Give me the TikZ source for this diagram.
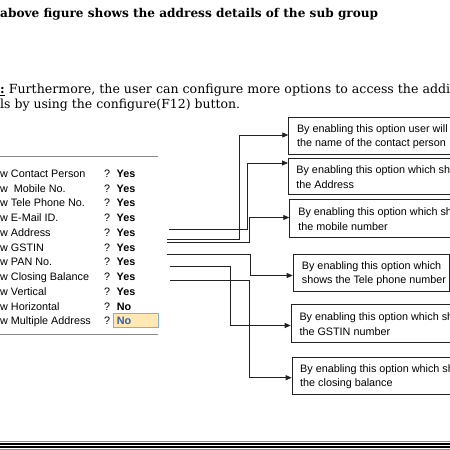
\documentclass[tikz,border=0pt]{standalone}
\usepackage{fontspec}
\setmainfont{Liberation Sans}
\newfontfamily\serifbk{DejaVu Serif}
\usetikzlibrary{arrows.meta}
\definecolor{rulegray}{HTML}{8A8A8A}
\definecolor{hlfill}{HTML}{FFE8B2}
\definecolor{hlborder}{HTML}{7DB3E0}
\definecolor{hltext}{HTML}{2E5DA8}
\definecolor{linecol}{HTML}{222222}
\tikzset{
  optbox/.style={draw=linecol, line width=0.8pt, rectangle, anchor=north west, inner sep=0pt, minimum width=175pt, minimum height=37pt},
  opttext/.style={anchor=west, inner sep=0pt, align=left, font=\fontsize{10.8}{14.5}\selectfont},
  rowtext/.style={anchor=base west, inner sep=0pt, font=\fontsize{10.8}{13}\selectfont},
  conn/.style={draw=linecol, line width=0.85pt, -{Triangle[length=6pt,width=5pt]}},
  tabrule/.style={draw=rulegray, line width=0.8pt}
}
\begin{document}
\begin{tikzpicture}[x=1pt,y=-1pt]
\useasboundingbox (0,0) rectangle (450,450);
\clip (0,0) rectangle (450,450);

% heading text
\node[anchor=base west, inner sep=0pt] (title) at (0,17) {\resizebox{378pt}{!}{\serifbk\bfseries above figure shows the address details of the sub group}};
\node[anchor=base west, inner sep=0pt] (para1) at (0,93.5) {\resizebox{450pt}{!}{\serifbk\underline{\textbf{:}} Furthermore, the user can configure more options to access the addi}};
\node[anchor=base west, inner sep=0pt] (para2) at (0,108) {\resizebox{240pt}{!}{\serifbk ls by using the configure(F12) button.}};

% table
\draw[tabrule] (0,156.7) -- (158,156.7);
\draw[tabrule] (0,334) -- (158,334);
\node[rowtext] (r1) at (0,177.2) {w Contact Person};
\node[rowtext] (r2) at (0,192.0) {w\ \ Mobile No.};
\node[rowtext] (r3) at (0,206.7) {w Tele Phone No.};
\node[rowtext] (r4) at (0,221.5) {w E-Mail ID.};
\node[rowtext] (r5) at (0,236.3) {w Address};
\node[rowtext] (r6) at (0,251.1) {w GSTIN};
\node[rowtext] (r7) at (0,265.8) {w PAN No.};
\node[rowtext] (r8) at (0,280.6) {w Closing Balance};
\node[rowtext] (r9) at (0,295.4) {w Vertical};
\node[rowtext] (r10) at (0,310.1) {w Horizontal};
\node[rowtext] (r11) at (0,324.9) {w Multiple Address};
\foreach \y [count=\i] in {177.2,192.0,206.7,221.5,236.3,251.1,265.8,280.6,295.4,310.1,324.9}{
  \node[rowtext] (q\i) at (104,\y) {?};
}
\foreach \y [count=\i] in {177.2,192.0,206.7,221.5,236.3,251.1,265.8,280.6,295.4}{
  \node[rowtext] (v\i) at (116.5,\y) {\bfseries Yes};
}
\node[rowtext] (v10) at (116.7,310.1) {\bfseries No};
\node[draw=hlborder, fill=hlfill, line width=0.8pt, anchor=north west, inner sep=0pt, minimum width=45.6pt, minimum height=13.4pt] (hl) at (112.7,313.3) {};
\node[rowtext, text=hltext] (v11) at (116.7,324.9) {\bfseries No};

% option boxes
\node[optbox, minimum height=37.3pt] (b1) at (288.3,116.7) {};
\node[optbox, minimum height=36.6pt] (b2) at (288,157.7) {};
\node[optbox, minimum height=37.4pt] (b3) at (289.3,199.3) {};
\node[optbox, minimum width=156.3pt, minimum height=36.7pt] (b4) at (292.7,254) {};
\node[optbox, minimum height=37.7pt] (b5) at (290.7,304) {};
\node[optbox, minimum height=37.6pt] (b6) at (291.7,356.7) {};

\node[opttext] (t1) at ([xshift=8.5pt,yshift=-0.8pt]b1.west) {By enabling this option user will\\the name of the contact person};
\node[opttext] (t2) at ([xshift=8.2pt,yshift=-0.8pt]b2.west) {By enabling this option which sh\\the Address};
\node[opttext] (t3) at ([xshift=8.8pt,yshift=-0.8pt]b3.west) {By enabling this option which sh\\the mobile number};
\node[opttext] (t4) at ([xshift=9pt,yshift=-1.2pt]b4.west) {By enabling this option which\\shows the Tele phone number};
\node[opttext] (t5) at ([xshift=8.6pt,yshift=-0.8pt]b5.west) {By enabling this option which sh\\the GSTIN number};
\node[opttext] (t6) at ([xshift=8.3pt,yshift=-0.8pt]b6.west) {By enabling this option which sh\\the closing balance};

% connectors
\coordinate (sA) at (169,229);   \coordinate (cA) at (247,163);
\coordinate (sB) at (167,239);   \coordinate (cB) at (239,135);
\coordinate (sC) at (167,242.3); \coordinate (cC) at (249.5,217.5);
\coordinate (sD) at (167,254.3); \coordinate (cD) at (250,275.5);
\coordinate (sE) at (170,266.7); \coordinate (cE) at (230,325.5);
\coordinate (sF) at (170,280.7); \coordinate (cF) at (249.7,377.7);
\draw[conn] (sA) -| (cA) -- (b2.west |- cA);
\draw[conn] (sB) -| (cB) -- (b1.west |- cB);
\draw[conn] (sC) -| (cC) -- (b3.west |- cC);
\draw[conn] (sD) -| (cD) -- (b4.west |- cD);
\draw[conn] (sE) -| (cE) -- (b5.west |- cE);
\draw[conn] (sF) -| (cF) -- (b6.west |- cF);

% bottom double rule
\draw[draw=rulegray, line width=0.8pt] (0,441.8) -- (450,441.8);
\draw[draw=black, line width=1.6pt] (0,444) -- (450,444);
\draw[draw=black, line width=2pt] (0,447.4) -- (450,447.4);
\draw[draw=rulegray, line width=0.8pt] (0,449.6) -- (450,449.6);
\end{tikzpicture}
\end{document}
